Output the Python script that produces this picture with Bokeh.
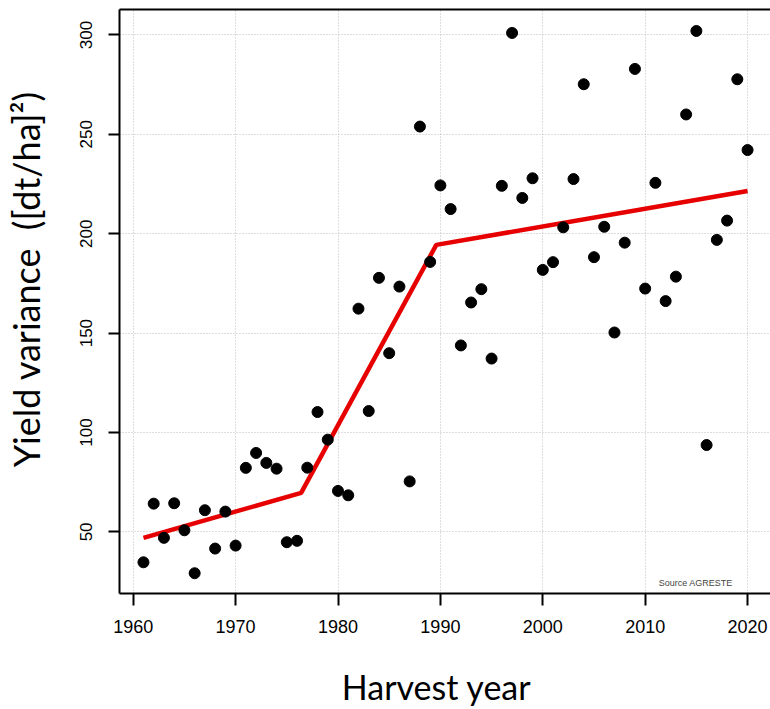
from bokeh.plotting import figure
from bokeh.models import Range1d, FixedTicker, LinearAxis, Label, ColumnDataSource
from bokeh.embed import file_html
from bokeh.resources import INLINE

# ---- data ----
years = list(range(1961, 2021))
variance = [
    34.7, 64.2, 47.0, 64.4, 50.8, 29.2, 60.9, 41.6, 60.2, 43.1,   # 1961-1970
    82.2, 89.7, 84.7, 81.8, 44.8, 45.5, 82.3, 110.3, 96.4, 70.6,  # 1971-1980
    68.4, 162.3, 110.8, 177.8, 139.9, 173.4, 75.4, 253.9, 185.8, 224.3,  # 1981-1990
    212.4, 143.8, 165.4, 172.1, 137.2, 224.1, 301.0, 218.0, 227.9, 181.8,  # 1991-2000
    185.7, 203.2, 227.5, 275.2, 188.2, 203.5, 150.3, 195.5, 282.9, 172.4,  # 2001-2010
    225.6, 166.1, 178.4, 260.0, 302.0, 93.7, 196.9, 206.6, 277.7, 242.1,   # 2011-2020
]
fit_years = [1961, 1976.4, 1989.6, 2020]
fit_values = [47.0, 69.6, 194.4, 221.5]

x_ticks = [1960, 1970, 1980, 1990, 2000, 2010, 2020]
y_ticks = [50, 100, 150, 200, 250, 300]

x_title = "Harvest year"
y_title = "Yield variance\u00a0 ([dt/ha]\u00b2)"
source_note = "Source AGRESTE"

# ---- figure ----
p = figure(width=770, height=709, output_backend="svg", toolbar_location=None,
           x_range=Range1d(1958.66, 2022.24), y_range=Range1d(19.0, 312.8),
           min_border_left=118, min_border_right=0, min_border_top=9,
           min_border_bottom=115)
p.outline_line_color = None
p.background_fill_color = "white"
p.border_fill_color = "white"

tick_font = "Liberation Sans"
for ax in (p.xaxis, p.yaxis):
    ax.axis_line_color = "black"
    ax.axis_line_width = 2
    ax.major_tick_line_color = "black"
    ax.major_tick_line_width = 2
    ax.major_tick_in = 0
    ax.minor_tick_line_color = None
    ax.major_label_text_font = tick_font
    ax.major_label_text_color = "black"
    ax.axis_label_text_font = "Lato"
    ax.axis_label_text_font_style = "normal"
    ax.axis_label_text_color = "black"

p.xaxis.ticker = FixedTicker(ticks=x_ticks)
p.xaxis.major_tick_out = 12
p.xaxis.major_label_text_font_size = "18px"
p.xaxis.major_label_standoff = 14
# trailing no-break spaces move the centred title slightly left, as on the slide
p.xaxis.axis_label = x_title + "\u00a0" * 2
p.xaxis.axis_label_text_font_size = "34px"
p.xaxis.axis_label_standoff = 30

p.yaxis.ticker = FixedTicker(ticks=y_ticks)
p.yaxis.major_tick_out = 11
p.yaxis.major_label_text_font_size = "17px"
p.yaxis.major_label_orientation = "vertical"
p.yaxis.major_label_standoff = 16
# leading no-break spaces move the centred title up, as on the slide
p.yaxis.axis_label = "\u00a0" * 5 + y_title
p.yaxis.axis_label_text_font_size = "36px"
p.yaxis.axis_label_standoff = 30

top_axis = LinearAxis(ticker=FixedTicker(ticks=[]), axis_line_color="black",
                      axis_line_width=2, major_tick_line_color=None,
                      minor_tick_line_color=None, major_label_text_font_size="0px",
                      major_label_standoff=0, major_tick_out=0)
p.add_layout(top_axis, "above")

for g in (p.xgrid, p.ygrid):
    g.grid_line_color = "#bdbdbd"
    g.grid_line_dash = "1 2"
    g.grid_line_width = 1
p.xgrid.ticker = FixedTicker(ticks=x_ticks)
p.ygrid.ticker = FixedTicker(ticks=y_ticks)

src = ColumnDataSource(data=dict(year=years, variance=variance))
p.line(fit_years, fit_values, line_color="#e60000", line_width=4.5)
p.scatter("year", "variance", source=src, size=11, fill_color="black",
          line_color="black", marker="circle")

p.add_layout(Label(x=2014.93, y=24.5, text=source_note, text_font=tick_font,
                   text_font_size="9px", text_color="#444444",
                   text_align="center", text_baseline="middle"))

open("out.html", "w").write(file_html(p, INLINE))
